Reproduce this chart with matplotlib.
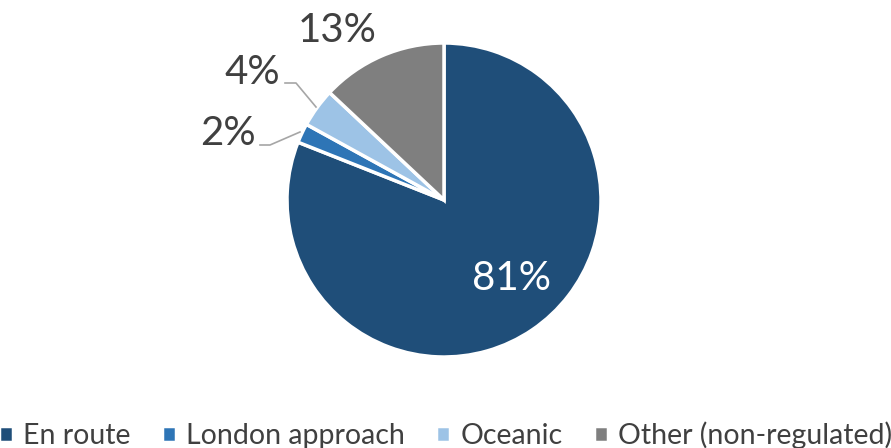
import matplotlib
matplotlib.use('Agg')
import matplotlib.pyplot as plt

## Data
labels = ['En route', 'London approach', 'Oceanic', 'Other (non-regulated)']
shares = [81, 2, 4, 13]
colors = ['#1F4E79', '#2E75B6', '#9DC3E6', '#7F7F7F']

plt.rcParams['font.family'] = ['Lato', 'DejaVu Sans']

W, H = 891, 448
fig = plt.figure(figsize=(W / 100, H / 100), dpi=100)
ax = fig.add_axes([0, 0, 1, 1])
ax.set_xlim(0, W)
ax.set_ylim(0, H)
ax.set_aspect('equal')
ax.axis('off')

wedges, _ = ax.pie(shares, colors=colors, startangle=90, counterclock=False,
                   center=(444, H - 200), radius=157,
                   wedgeprops=dict(edgecolor='white', linewidth=2.5))
ax.set_xlim(0, W)
ax.set_ylim(0, H)

txt = '#404040'
## big slice label inside
ax.text(512, H - 278, f'{shares[0]}%', color='white', fontsize=29,
        ha='center', va='center')
ax.text(337, H - 30, f'{shares[3]}%', color=txt, fontsize=29,
        ha='center', va='center')
ax.text(252, H - 72, f'{shares[2]}%', color=txt, fontsize=29,
        ha='center', va='center')
ax.text(228, H - 133, f'{shares[1]}%', color=txt, fontsize=29,
        ha='center', va='center')

## leader lines
ax.plot([285, 296, 316], [H - 83, H - 83, H - 107], color='#A6A6A6', lw=1.2)
ax.plot([260, 270, 300], [H - 145, H - 145, H - 132], color='#A6A6A6', lw=1.2)

fig.legend(wedges, labels, loc='lower center', ncol=4, frameon=False,
           bbox_to_anchor=(0.5, -0.06), fontsize=20.5, labelcolor=txt,
           handlelength=0.5, handleheight=0.5, handletextpad=0.35,
           columnspacing=1.1)

plt.savefig('out.png', dpi=100)
plt.close()
